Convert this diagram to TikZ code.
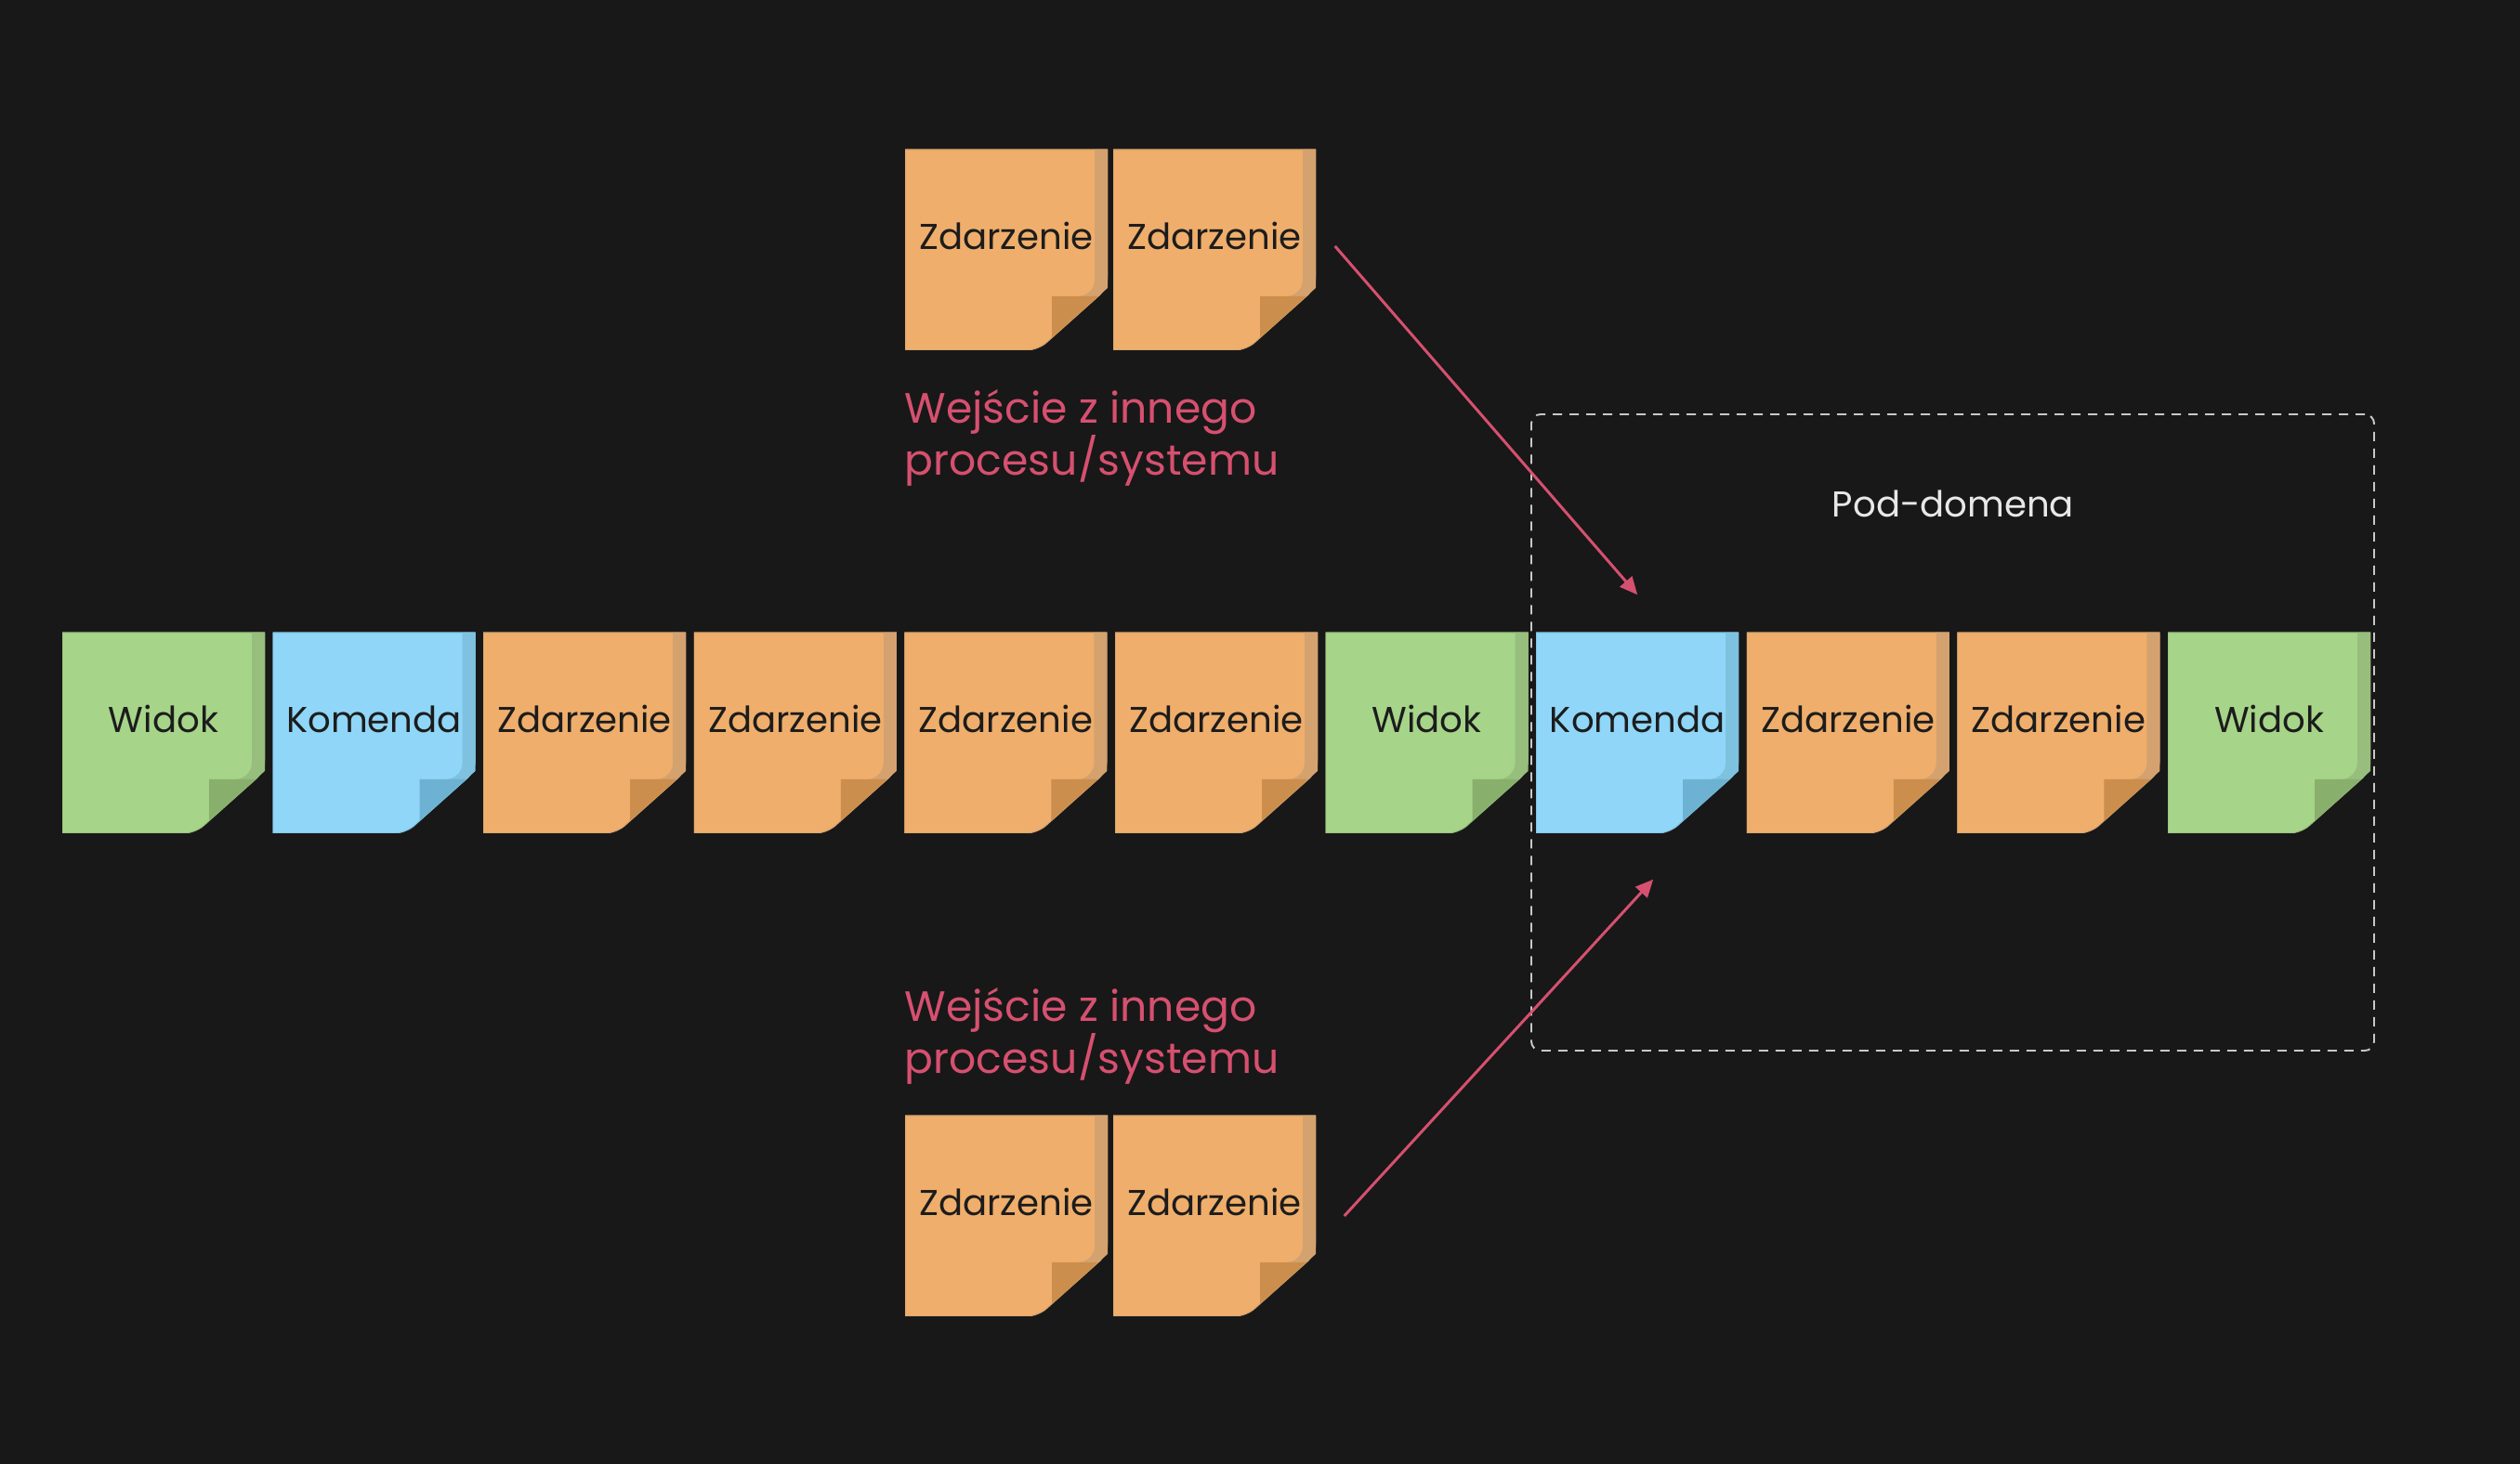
\documentclass[tikz,border=0pt]{standalone}
\usepackage{fontspec}
\setmainfont{Poppins}
\usetikzlibrary{arrows.meta}

\definecolor{bg}{HTML}{181818}
\definecolor{ink}{HTML}{1C1C1C}
\definecolor{accent}{HTML}{D6506F}
\definecolor{boxline}{HTML}{C8C8C8}
\definecolor{lbl}{HTML}{E8E8E8}
\definecolor{evfill}{HTML}{EFAE6B}
\definecolor{evside}{HTML}{D4A26F}
\definecolor{evfold}{HTML}{CC8E4D}
\definecolor{cmfill}{HTML}{8FD6F8}
\definecolor{cmside}{HTML}{7EC2E0}
\definecolor{cmfold}{HTML}{6DB2D2}
\definecolor{vwfill}{HTML}{A6D489}
\definecolor{vwside}{HTML}{97BE7C}
\definecolor{vwfold}{HTML}{88B06C}

\tikzset{
    note/.style n args={3}{minimum width=2.18cm, minimum height=2.16cm, inner sep=0pt,
        text height=3mm, text depth=3mm, text=ink, font=\fontsize{11}{13}\selectfont,
        path picture={
            \filldraw[fill=#1, draw=#2, line width=0.3pt] (path picture bounding box.south west)
                -- ++(0,2.16) -- ++(2.18,0) [rounded corners=1.2mm] -- ++(0,-1.49)
                -- ++(-0.75,-0.67) [sharp corners] -- cycle;
            \fill[#2] (path picture bounding box.north east) -- ++(-0.14,0) -- ++(0,-1.40)
                to[out=-90,in=0] ++(-0.18,-0.18) -- ++(0.22,0) -- ++(0.10,0.09) -- cycle;
            \fill[#3] (path picture bounding box.south west) ++(1.58,0.58)
                -- ++(0.50,0) -- ++(-0.50,-0.446) -- cycle;}},
    zdarzenie/.style={note={evfill}{evside}{evfold}},
    komenda/.style={note={cmfill}{cmside}{cmfold}},
    widok/.style={note={vwfill}{vwside}{vwfold}},
    wejscie/.style={anchor=base west, align=left, inner sep=0pt, text=accent,
        font=\fontsize{13}{16.2}\selectfont},
    domena/.style={draw=boxline, line width=0.55pt, dash pattern=on 1mm off 0.8mm,
        rounded corners=1mm, minimum width=9.07cm, minimum height=6.85cm, inner sep=0pt},
    flow/.style={draw=accent, line width=0.85pt, -{Triangle[length=1.9mm,width=1.7mm]}}
}

\begin{document}
\begin{tikzpicture}
    \fill[bg] (0,0) rectangle (27.12,15.76);
    \useasboundingbox (0,0) rectangle (27.12,15.76);

    % pod-domena frame
    \node[domena] (pd) at (21.015,7.875) {};
    \node[anchor=base, text=lbl, font=\fontsize{11}{13}\selectfont] (pdl) at (21.02,10.19) {Pod-domena};

    % main flow
    \node[widok] (w1) at (1.76,7.87) {Widok};
    \node[komenda] (k1) at (4.026,7.87) {Komenda};
    \node[zdarzenie] (z1) at (6.292,7.87) {Zdarzenie};
    \node[zdarzenie] (z2) at (8.558,7.87) {Zdarzenie};
    \node[zdarzenie] (z3) at (10.824,7.87) {Zdarzenie};
    \node[zdarzenie] (z4) at (13.09,7.87) {Zdarzenie};
    \node[widok] (w2) at (15.356,7.87) {Widok};
    \node[komenda] (k2) at (17.622,7.87) {Komenda};
    \node[zdarzenie] (z5) at (19.888,7.87) {Zdarzenie};
    \node[zdarzenie] (z6) at (22.154,7.87) {Zdarzenie};
    \node[widok] (w3) at (24.42,7.87) {Widok};

    % input from above
    \node[zdarzenie] (t1) at (10.83,13.07) {Zdarzenie};
    \node[zdarzenie] (t2) at (13.07,13.07) {Zdarzenie};
    \node[wejscie] (tl) at (9.73,10.64) {Wejście z innego\\procesu/systemu};

    % input from below
    \node[zdarzenie] (b1) at (10.83,2.67) {Zdarzenie};
    \node[zdarzenie] (b2) at (13.07,2.67) {Zdarzenie};
    \node[wejscie] (bl) at (9.73,4.20) {Wejście z innego\\procesu/systemu};

    \draw[flow] ([xshift=2mm,yshift=0.4mm]t2.east) -- ([yshift=4mm]k2.north);
    \draw[flow] ([xshift=3mm]b2.east) -- ([xshift=1.7mm,yshift=-4.9mm]k2.south);
\end{tikzpicture}
\end{document}
